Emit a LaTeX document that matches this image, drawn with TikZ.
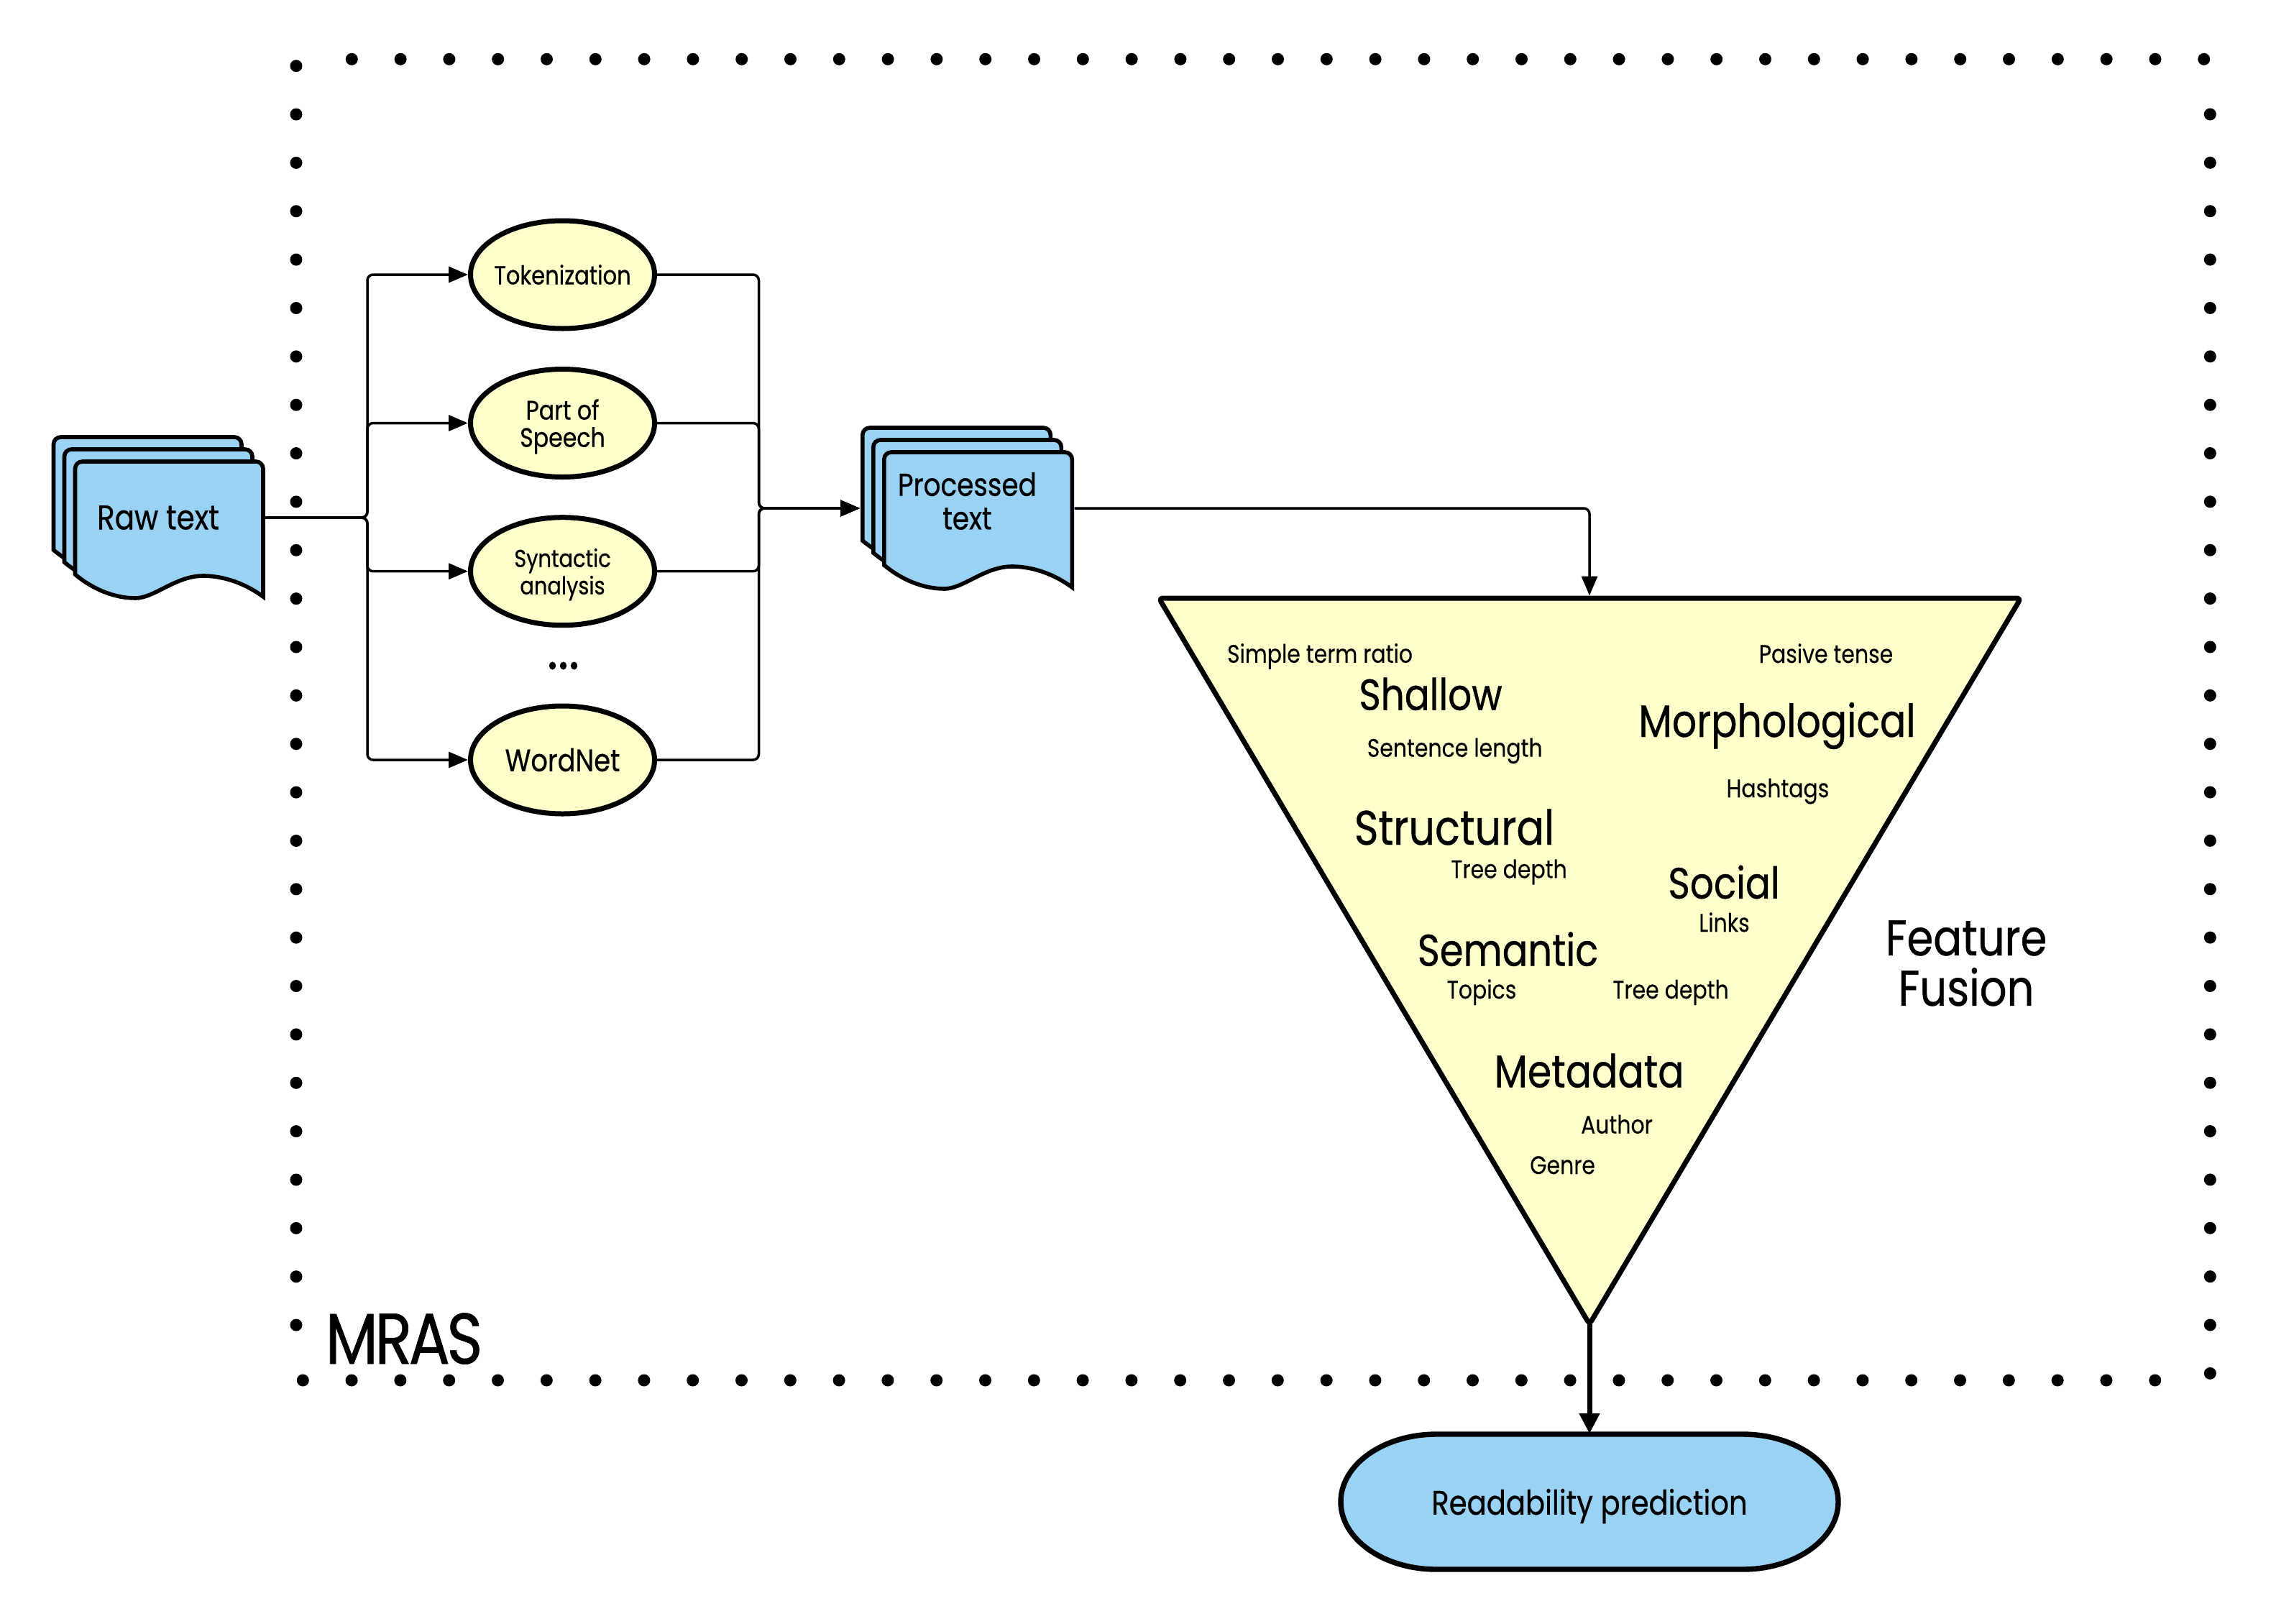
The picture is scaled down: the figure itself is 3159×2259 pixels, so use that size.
\documentclass[tikz,border=0pt]{standalone}
\usepackage{fontspec}
\setmainfont[FakeStretch=0.85,FakeBold=0.6]{Poppins}
\newfontfamily\lightfont[FakeStretch=0.85,FakeBold=0.2]{Poppins}
\usepackage{xcolor}
\usepackage{tikz}
\usetikzlibrary{shapes.geometric}
\usetikzlibrary{arrows.meta}
\definecolor{docblue}{HTML}{9AD2F4}
\definecolor{funnelyellow}{HTML}{FFFFCC}
\tikzset{
  link/.style={line width=0.875pt,rounded corners=2pt},
  linkarrow/.style={link,-{Triangle[length=6.75pt,width=5.5pt]}},
  stepellipse/.style={ellipse,draw,fill=funnelyellow,line width=1.75pt,minimum width=64pt,minimum height=37.5pt,inner sep=-8pt,align=center,font=\fontsize{9}{9.5}\selectfont},
  docpage/.style={draw,fill=docblue,line width=1.4pt,line join=miter},
  doclabel/.style={inner sep=0pt,minimum height=10pt,align=center,font=\fontsize{11}{11.7}\selectfont},
  biglabel/.style={anchor=base,inner sep=0pt,font=\fontsize{15.8}{18}\selectfont},
  smalllabel/.style={anchor=base,inner sep=0pt,font=\lightfont\fontsize{8.8}{9}\selectfont},
}
% one sheet of a stack, given by the top left corner
\newcommand{\sheet}[2]{
  \draw[docpage,rounded corners=2.5pt] (#1,#2+157) -- (#1,#2) -- (#1+261.5,#2) [sharp corners] -- (#1+261.5,#2+188)
    .. controls (#1+240,#2+172) and (#1+210,#2+159) .. (#1+178,#2+159)
    .. controls (#1+140,#2+159) and (#1+110,#2+190) .. (#1+84,#2+190)
    .. controls (#1+55,#2+190) and (#1+25,#2+178) .. (#1,#2+157) -- cycle;
}
\begin{document}
\begin{tikzpicture}[x=0.25pt,y=0.25pt,yscale=-1,xscale=1]
\useasboundingbox (0,0) rectangle (3159,2259);

%MRAS frame
\foreach \i in {0,...,38} {
  \fill (489.3+67.8*\i,82.3) circle [radius=8.5];
  \fill (421.3+67.8*\i,1920) circle [radius=8.5];
}
\foreach \i in {0,...,26} {
  \fill (412,91.7+67.36*\i) circle [radius=8.5];
  \fill (3074.3,159+67.36*\i) circle [radius=8.5];
}
\node[anchor=base,inner sep=0pt,font=\addfontfeature{LetterSpace=-4.5}\fontsize{25}{30}\selectfont] (mras) at (562,1897) {MRAS};

%Document stacks
\foreach \o in {34,17,0} {
  \sheet{104.5-\o*30/34}{642-\o}
  \sheet{1229.8-\o*30/34}{629-\o}
}
\node[doclabel,minimum width=74.25pt,font=\fontsize{11.9}{13}\selectfont] (rawtext) at (220,720) {Raw text};
\node[inner sep=0pt,minimum width=74.2pt] (proc) at (1345.4,707) {};
\node[doclabel] (proctext) at (1345.4,697) {Processed\\text};

%Processing steps
\coordinate (busin) at (511,720);
\coordinate (busout) at (1055.5,707);
\node[stepellipse] (tokenization) at (782.5,382) {Tokenization};
\node[stepellipse,font=\fontsize{9.3}{9.5}\selectfont] (partofspeech) at (782.5,588.5) {\rule{0pt}{9.5pt}Part of\\Speech};
\node[stepellipse,font=\fontsize{8.5}{9.5}\selectfont] (syntactic) at (782.5,794.7) {\rule{0pt}{8.7pt}Syntactic\\analysis};
\node[stepellipse,font=\fontsize{10.8}{11}\selectfont] (wordnet) at (782.5,1057) {WordNet};
\node[inner sep=0pt,font=\fontsize{21}{22}\selectfont] (dots) at (783.5,926) {...};

\foreach \s in {tokenization,partofspeech,syntactic,wordnet} {
  \draw[linkarrow] (rawtext.east) -- (busin) |- (\s.west);
  \draw[linkarrow] (\s.east) -| (busout) -- (proc.west);
}

%Feature funnel
\coordinate (funneltop) at (2211,828.5);
\coordinate (funneltip) at (2211,1842);
\draw[fill=funnelyellow,line width=1.75pt,rounded corners=1.5pt] (1612,832) -- (2811,832) -- (2211,1842) -- cycle;
\draw[linkarrow] (proc.east) -| (funneltop);

\node[biglabel,font=\fontsize{15.2}{18}\selectfont] (shallow) at (1990,987.6) {Shallow};
\node[biglabel] (morphological) at (2472,1025) {Morphological};
\node[biglabel,font=\fontsize{16.8}{18}\selectfont] (structural) at (2023,1175) {Structural};
\node[biglabel,font=\fontsize{15.2}{18}\selectfont] (social) at (2398,1249.8) {Social};
\node[biglabel,font=\fontsize{15.5}{18}\selectfont] (semantic) at (2097.5,1343.5) {Semantic};
\node[biglabel] (metadata) at (2210.6,1512.4) {Metadata};

\node[smalllabel] (termratio) at (1836,921.8) {Simple term ratio};
\node[smalllabel] (pasive) at (2540,922) {Pasive tense};
\node[smalllabel] (sentence) at (2023.7,1052.7) {Sentence length};
\node[smalllabel] (hashtags) at (2473,1109) {Hashtags};
\node[smalllabel] (treedepthone) at (2099,1221.4) {Tree depth};
\node[smalllabel] (links) at (2398.5,1296) {Links};
\node[smalllabel] (topics) at (2061,1389) {Topics};
\node[smalllabel] (treedepthtwo) at (2324,1389) {Tree depth};
\node[smalllabel] (author) at (2249,1576.7) {Author};
\node[smalllabel] (genre) at (2173.6,1633) {Genre};

\node[biglabel,align=center,anchor=center,font=\fontsize{17.4}{17.5}\selectfont] (fusion) at (2735,1340) {Feature\\Fusion};

%Prediction
\draw[fill=docblue,line width=1.85pt] (1998,1995) -- (2424,1995) arc [start angle=-90,end angle=90,x radius=133,y radius=94] -- (1998,2183) arc [start angle=90,end angle=270,x radius=133,y radius=94] -- cycle;
\node[inner sep=0pt,minimum width=175pt,minimum height=50pt,font=\fontsize{11.8}{13}\selectfont] (prediction) at (2211,2095) {Readability prediction};
\draw[line width=1.75pt,-{Triangle[length=7pt,width=6.75pt]}] (funneltip) -- (prediction.north);
\end{tikzpicture}
\end{document}
